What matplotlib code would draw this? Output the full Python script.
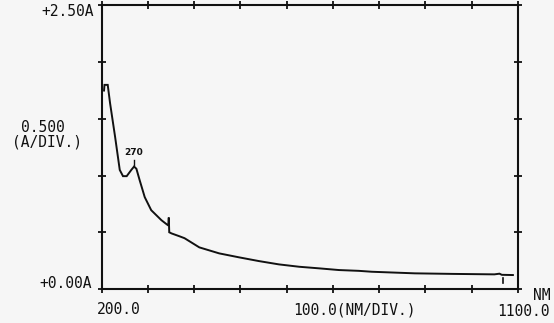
"""
UV-Vis absorbance scan, 200-1100 nm, redrawn as a plain strip-chart printout.
"""
import matplotlib
matplotlib.use("Agg")
import matplotlib.pyplot as plt

# absorbance trace
wavelength_nm = [205, 206, 213, 218, 229, 239, 246, 254, 264, 270, 275, 282, 293,
                 307, 329, 340, 344, 345, 346, 351, 368, 379, 411, 454, 497, 540,
                 583, 627, 670, 713, 756, 784, 877, 960, 1049, 1060, 1065, 1089]
absorbance = [1.75, 1.80, 1.80, 1.64, 1.34, 1.05, 0.995, 0.995, 1.05, 1.08, 1.06, 0.96, 0.81,
              0.695, 0.607, 0.572, 0.56, 0.63, 0.50, 0.49, 0.465, 0.448, 0.367, 0.314, 0.279, 0.246,
              0.217, 0.196, 0.182, 0.167, 0.160, 0.152, 0.138, 0.133, 0.129, 0.135, 0.125, 0.123]

peak_nm, peak_label = 270, "270"
marker_nm, marker_A = 1068, (0.055, 0.095)   # small pen mark near the end

x_ticks = list(range(200, 1101, 100))
y_ticks = [0.0, 0.5, 1.0, 1.5, 2.0, 2.5]

INK = "#111111"
PAPER = "#f6f6f6"
MONO = "DejaVu Sans Mono"

fig = plt.figure(figsize=(5.54, 3.23), dpi=100, facecolor=PAPER)
ax = fig.add_axes([0.1836, 0.1053, 0.7514, 0.8777], facecolor=PAPER)

ax.plot(wavelength_nm, absorbance, color=INK, lw=1.4, solid_joinstyle="miter")
ax.plot([marker_nm, marker_nm], marker_A, color=INK, lw=1.2)

# peak annotation
i = wavelength_nm.index(peak_nm)
ax.plot([peak_nm, peak_nm], [absorbance[i] + 0.015, absorbance[i] + 0.06], color=INK, lw=1.0)
ax.text(peak_nm, absorbance[i] + 0.08, peak_label, ha="center", va="bottom",
        fontsize=6.5, fontweight="bold", color=INK)

ax.set_xlim(200, 1100)
ax.set_ylim(0, 2.5)
ax.set_xticks(x_ticks)
ax.set_yticks(y_ticks)
ax.tick_params(which="both", direction="inout", length=6, width=1.3, color=INK,
               top=True, right=True, labelbottom=False, labelleft=False)
for s in ax.spines.values():
    s.set_linewidth(1.5)
    s.set_color(INK)

# printer-style labels in figure pixel coordinates
def px(x, y, s, **kw):
    fig.text(x / 554, 1 - y / 323, s, family=MONO, fontsize=10.5, color=INK, **kw)

px(94, 12, "+2.50A", ha="right", va="center")
px(43, 127, "0.500", ha="center", va="center")
px(47, 142, "(A/DIV.)", ha="center", va="center")
px(92, 283, "+0.00A", ha="right", va="center")
px(119, 310, "200.0", ha="center", va="center")
px(354, 310, "100.0(NM/DIV.)", ha="center", va="center")
px(550, 311, "1100.0", ha="right", va="center")
px(550, 296, "NM", ha="right", va="center")

fig.savefig("out.png", dpi=100, facecolor=PAPER)
